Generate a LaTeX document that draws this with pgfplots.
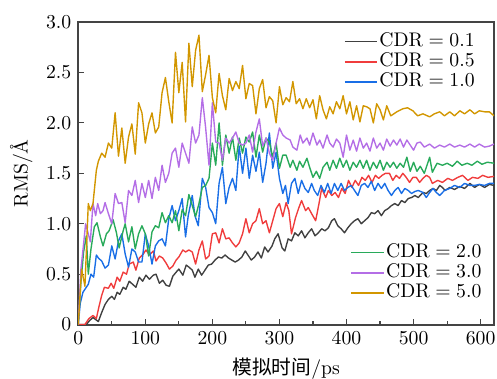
\documentclass[border=0pt]{standalone}
\usepackage{fontspec}
\newfontfamily\cjk{Noto Sans CJK SC}
\usepackage{pgfplots}
\pgfplotsset{compat=1.18}
\definecolor{cBlack}{RGB}{64,64,64}
\definecolor{cRed}{RGB}{240,60,60}
\definecolor{cBlue}{RGB}{25,110,230}
\definecolor{cGreen}{RGB}{40,170,90}
\definecolor{cPurple}{RGB}{180,110,230}
\definecolor{cGold}{RGB}{210,150,0}
\definecolor{frame}{RGB}{68,68,68}
\pgfplotsset{
  common/.style={
    scale only axis, width=211pt, height=153.5pt,
    xmin=0, xmax=620, ymin=0, ymax=3,
    legend cell align=left,
    legend style={draw=none, fill=white, font=\normalsize, inner sep=1pt, row sep=0.4pt,
      nodes={inner sep=0.6pt, text height=6.8pt, text depth=1.9pt}},
    every axis plot/.append style={line width=0.7pt, line join=round},
  }
}
\begin{document}
\begin{tikzpicture}
\begin{axis}[common,
  legend image code/.code={\draw[#1,line width=0.8pt] (0pt,0pt) -- (16.5pt,0pt);},
  axis line style={frame, line width=1pt},
  tick style={frame, line width=0.6pt},
  tick align=inside, xtick pos=left, ytick pos=left,
  xtick={0,100,200,300,400,500,600},
  minor xtick={50,150,250,350,450,550},
  ytick={0,0.5,1,1.5,2,2.5,3},
  yticklabels={0,0.5,1.0,1.5,2.0,2.5,3.0},
  major tick length=3pt, minor tick length=2pt,
  xlabel={{\cjk 模拟时间}/ps},
  ylabel={RMS/Å},
  legend style={at={(0.962,0.976)}, anchor=north east},
]
\addplot[cBlack] coordinates {(0,0)(12,0)(17,0.04)(22,0.07)(26,0.05)(30,0.03)(35,0.12)(40,0.20)(45,0.25)(50,0.28)(54,0.25)(58,0.32)(62,0.30)(67,0.37)(71,0.35)(76,0.43)(81,0.40)(86,0.37)(91,0.47)(96,0.43)(101,0.49)(106,0.45)(112,0.49)(116,0.50)(121,0.41)(126,0.44)(131,0.39)(136,0.38)(141,0.48)(146,0.52)(150,0.55)(156,0.49)(161,0.59)(165,0.57)(170,0.54)(174,0.47)(179,0.55)(184,0.49)(189,0.54)(194,0.59)(199,0.60)(204,0.64)(209,0.67)(214,0.66)(219,0.69)(224,0.66)(229,0.64)(234,0.62)(239,0.64)(244,0.67)(249,0.73)(253,0.69)(258,0.64)(263,0.67)(268,0.72)(273,0.66)(278,0.77)(283,0.72)(289,0.78)(293,0.85)(298,0.90)(304,0.76)(308,0.73)(313,0.85)(318,0.83)(323,0.91)(328,0.88)(333,0.93)(338,0.86)(343,0.91)(348,0.95)(353,0.88)(358,0.91)(363,0.95)(368,0.93)(373,0.96)(378,1.03)(382,1.05)(387,0.98)(392,0.95)(397,0.91)(402,0.96)(407,1.00)(412,1.03)(417,1.05)(422,1.00)(427,1.03)(432,1.06)(437,1.11)(442,1.10)(447,1.13)(452,1.08)(457,1.13)(462,1.15)(467,1.18)(472,1.20)(477,1.18)(482,1.23)(487,1.21)(492,1.25)(497,1.26)(502,1.28)(507,1.26)(514,1.31)(519,1.30)(524,1.33)(529,1.35)(534,1.33)(539,1.38)(543,1.36)(547,1.33)(554,1.36)(561,1.34)(569,1.37)(576,1.35)(584,1.40)(591,1.36)(598,1.39)(606,1.36)(613,1.39)(620,1.38)};
\addlegendentry{$\mathrm{CDR}=0.1$}
\addplot[cRed] coordinates {(0,0)(10,0)(16,0.06)(22,0.09)(27,0.06)(31,0.18)(35,0.29)(39,0.37)(45,0.36)(49,0.41)(53,0.36)(58,0.47)(62,0.43)(67,0.52)(72,0.50)(76,0.60)(82,0.62)(86,0.54)(91,0.66)(97,0.70)(101,0.74)(106,0.69)(112,0.73)(116,0.63)(121,0.68)(126,0.66)(131,0.61)(136,0.55)(141,0.58)(146,0.64)(150,0.67)(156,0.74)(160,0.72)(165,0.74)(170,0.72)(175,0.60)(180,0.74)(185,0.83)(190,0.65)(195,0.68)(200,0.90)(205,0.91)(210,0.81)(215,0.95)(220,0.85)(225,0.86)(230,0.81)(235,0.77)(240,0.81)(245,0.90)(250,1.05)(255,0.91)(260,1.00)(265,1.03)(270,1.15)(275,1.00)(280,1.03)(285,0.91)(290,1.03)(295,1.15)(300,1.20)(305,1.07)(310,1.21)(314,1.13)(318,0.90)(324,1.06)(329,1.16)(333,1.23)(339,1.13)(343,1.16)(348,1.10)(354,1.03)(359,1.20)(363,1.35)(369,1.26)(373,1.33)(378,1.28)(383,1.31)(388,1.26)(393,1.35)(398,1.30)(403,1.43)(408,1.36)(413,1.43)(418,1.38)(423,1.46)(428,1.43)(433,1.48)(438,1.41)(443,1.48)(448,1.45)(453,1.48)(458,1.50)(464,1.50)(469,1.43)(474,1.48)(479,1.45)(484,1.50)(489,1.46)(494,1.41)(499,1.46)(504,1.46)(509,1.41)(514,1.45)(519,1.48)(524,1.46)(528,1.40)(536,1.43)(543,1.41)(551,1.45)(558,1.43)(566,1.46)(573,1.48)(581,1.43)(588,1.46)(596,1.45)(603,1.48)(611,1.46)(620,1.47)};
\addlegendentry{$\mathrm{CDR}=0.5$}
\addplot[cBlue] coordinates {(0,0)(3,0.21)(7,0.32)(12,0.37)(15,0.40)(19,0.50)(23,0.47)(27,0.69)(30,0.66)(35,0.63)(40,0.56)(45,0.59)(50,0.78)(55,0.65)(60,0.83)(65,0.90)(70,0.70)(75,0.57)(80,0.75)(85,0.72)(90,0.62)(95,0.62)(100,0.90)(105,0.78)(110,0.60)(115,0.78)(120,0.83)(125,0.85)(130,0.78)(135,1.05)(140,1.18)(145,1.03)(150,1.13)(155,1.25)(160,0.87)(164,1.08)(170,1.28)(174,1.08)(179,0.98)(185,1.45)(190,1.36)(195,1.16)(200,1.11)(205,1.00)(210,1.40)(215,1.56)(220,1.20)(225,1.36)(230,1.45)(235,1.33)(240,1.77)(245,1.50)(250,1.75)(255,1.45)(260,1.68)(265,1.52)(270,1.71)(275,1.41)(280,1.60)(285,1.90)(290,1.55)(295,1.71)(300,1.45)(305,1.30)(309,1.38)(313,1.20)(318,1.40)(323,1.45)(328,1.30)(333,1.43)(338,1.35)(343,1.31)(348,1.40)(352,1.33)(357,1.28)(362,1.38)(367,1.31)(372,1.40)(377,1.30)(382,1.40)(387,1.33)(392,1.40)(397,1.33)(402,1.36)(407,1.38)(412,1.33)(417,1.28)(422,1.38)(427,1.40)(432,1.36)(437,1.42)(442,1.33)(447,1.40)(452,1.35)(457,1.40)(462,1.33)(467,1.28)(472,1.33)(477,1.36)(482,1.30)(487,1.35)(492,1.33)(497,1.30)(502,1.32)(507,1.33)(514,1.31)(519,1.26)(524,1.31)(529,1.35)(534,1.31)(539,1.28)(546,1.33)(554,1.35)(561,1.38)(569,1.36)(576,1.40)(584,1.38)(591,1.38)(598,1.39)(606,1.38)(613,1.40)(620,1.40)};
\addlegendentry{$\mathrm{CDR}=1.0$}
\end{axis}
\begin{axis}[common, hide axis,
  legend image code/.code={\draw[#1,line width=1pt] (0pt,0pt) -- (16.5pt,0pt);},
  legend style={at={(0.978,0.064)}, anchor=south east},
]
\addplot[cGreen] coordinates {(0,0)(4,0.42)(8,0.72)(12,0.88)(15,0.50)(19,0.75)(24,0.97)(28,1.01)(33,0.87)(37,0.78)(42,0.90)(46,0.93)(52,1.04)(57,0.91)(61,0.76)(67,0.93)(70,1.00)(75,0.82)(80,0.97)(85,0.75)(90,0.90)(95,0.98)(100,0.90)(105,0.68)(110,0.92)(115,0.98)(120,0.96)(125,1.11)(130,1.01)(135,1.08)(140,1.01)(145,1.13)(150,0.93)(155,1.14)(160,1.08)(165,1.29)(170,1.18)(175,1.07)(180,1.20)(185,1.36)(190,1.38)(195,1.45)(200,1.80)(205,1.58)(210,2.00)(215,1.58)(220,1.88)(225,1.70)(230,1.86)(235,1.63)(240,1.85)(245,1.70)(250,1.86)(255,1.81)(260,1.91)(265,1.66)(270,1.88)(275,1.71)(280,1.85)(285,1.81)(290,1.66)(295,1.80)(300,1.55)(305,1.68)(310,1.68)(316,1.56)(320,1.63)(326,1.53)(330,1.62)(335,1.56)(341,1.65)(345,1.56)(350,1.46)(355,1.52)(360,1.45)(365,1.56)(371,1.61)(375,1.53)(380,1.63)(385,1.55)(390,1.65)(395,1.56)(400,1.63)(405,1.53)(410,1.61)(415,1.56)(420,1.63)(425,1.55)(430,1.63)(435,1.53)(440,1.61)(445,1.55)(450,1.63)(455,1.53)(460,1.61)(465,1.56)(470,1.61)(475,1.55)(480,1.60)(485,1.56)(490,1.66)(495,1.52)(500,1.61)(505,1.52)(510,1.57)(516,1.50)(524,1.66)(528,1.51)(535,1.60)(543,1.58)(550,1.60)(558,1.57)(565,1.62)(572,1.58)(580,1.60)(587,1.58)(595,1.62)(602,1.59)(610,1.61)(620,1.60)};
\addlegendentry{$\mathrm{CDR}=2.0$}
\addplot[cPurple] coordinates {(0,0)(4,0.55)(8,0.80)(11,1.00)(15,0.90)(18,0.82)(22,1.20)(26,1.08)(29,1.20)(33,1.10)(37,1.13)(40,1.21)(45,1.10)(50,1.00)(55,1.30)(60,1.20)(65,1.21)(70,1.01)(75,1.33)(80,1.28)(85,1.43)(90,1.21)(95,1.40)(100,1.26)(105,1.43)(110,1.25)(115,1.46)(120,1.33)(125,1.58)(130,1.41)(135,1.50)(140,1.70)(145,1.75)(150,1.56)(155,1.80)(160,1.70)(165,1.60)(170,1.96)(175,1.80)(180,1.88)(185,2.25)(190,1.95)(195,1.58)(200,2.20)(205,1.81)(210,1.80)(215,1.63)(220,1.85)(225,1.80)(230,1.85)(235,1.91)(240,1.80)(245,1.78)(250,1.80)(255,1.88)(260,1.71)(265,1.91)(270,2.04)(275,1.77)(280,1.85)(285,1.70)(290,1.63)(295,1.80)(300,1.95)(305,1.88)(310,1.85)(316,1.83)(320,1.76)(326,1.73)(331,1.88)(335,1.80)(341,1.85)(345,1.78)(350,1.90)(356,1.78)(360,1.83)(365,1.75)(371,1.88)(375,1.80)(380,1.76)(385,1.84)(390,1.80)(395,1.66)(400,1.88)(405,1.73)(410,1.83)(415,1.72)(420,1.85)(425,1.75)(430,1.80)(435,1.72)(440,1.85)(445,1.75)(450,1.80)(455,1.73)(460,1.84)(465,1.77)(470,1.83)(475,1.78)(480,1.84)(485,1.76)(490,1.83)(495,1.78)(500,1.73)(505,1.80)(510,1.81)(516,1.76)(524,1.79)(531,1.75)(539,1.78)(546,1.76)(554,1.79)(561,1.76)(569,1.78)(576,1.76)(584,1.79)(591,1.76)(598,1.79)(606,1.76)(613,1.77)(620,1.79)};
\addlegendentry{$\mathrm{CDR}=3.0$}
\addplot[cGold] coordinates {(0,0)(5,0.55)(10,0.38)(15,1.20)(18,1.13)(22,1.20)(27,1.53)(30,1.62)(35,1.70)(40,1.66)(45,1.80)(50,1.75)(55,2.10)(60,1.67)(65,1.95)(70,1.60)(75,1.86)(80,1.99)(85,1.69)(90,2.20)(95,2.10)(100,1.80)(105,1.99)(110,2.10)(115,1.90)(120,1.96)(125,2.30)(130,2.45)(135,2.21)(140,2.00)(145,2.70)(150,2.30)(155,2.60)(160,2.01)(165,2.79)(170,2.36)(175,2.72)(180,2.87)(185,2.31)(190,2.48)(195,2.67)(200,2.25)(205,2.10)(210,2.49)(215,2.27)(220,2.13)(225,2.44)(230,2.32)(235,2.41)(240,2.34)(245,2.57)(250,2.24)(255,2.39)(260,2.37)(265,2.09)(270,2.34)(275,2.43)(280,2.15)(285,2.26)(290,2.22)(295,2.00)(300,2.36)(305,2.18)(310,2.25)(315,2.21)(320,2.41)(325,2.19)(330,2.24)(335,2.14)(340,2.24)(345,2.15)(350,2.23)(355,2.04)(360,2.27)(365,2.13)(370,2.04)(375,2.16)(380,2.09)(385,2.21)(390,2.14)(395,2.27)(400,2.09)(405,2.21)(410,2.03)(415,2.17)(420,2.01)(425,2.17)(430,2.16)(435,2.14)(440,2.00)(445,2.19)(450,2.13)(455,2.03)(460,2.17)(466,2.07)(475,2.11)(484,2.14)(491,2.15)(499,2.12)(506,2.07)(514,2.09)(524,2.06)(531,2.09)(539,2.11)(546,2.07)(554,2.11)(561,2.07)(569,2.12)(576,2.09)(584,2.13)(591,2.09)(598,2.12)(606,2.11)(613,2.11)(620,2.07)};
\addlegendentry{$\mathrm{CDR}=5.0$}
\end{axis}
\pgfresetboundingbox
\path ([xshift=-39.7pt,yshift=-27.5pt]current axis.south west) rectangle ([xshift=1.5pt,yshift=11.2pt]current axis.north east);
\end{tikzpicture}
\end{document}
